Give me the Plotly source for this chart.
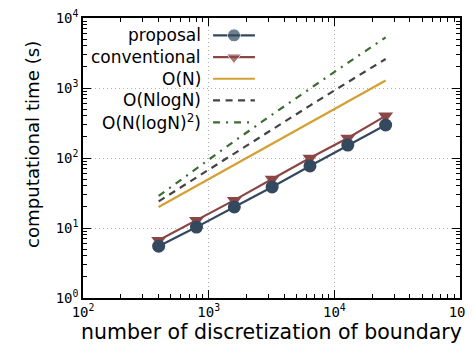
import plotly.graph_objects as go

N = [400, 800, 1600, 3200, 6400, 12800, 25600]
proposal = [5.5, 10.3, 20, 38.5, 77, 153, 296]
conventional = [6.7, 12.9, 25, 50, 100, 193, 400]
o_n = [20, 40, 80, 160, 320, 640, 1280]
o_nlogn = [24, 53, 118, 258, 561, 1211, 2598]
o_nlog2n = [28.7, 71.5, 174, 417, 983, 2290, 5275]

names = ["proposal", "conventional", "O(N)", "O(NlogN)", "O(N(logN)<sup>2</sup>)"]
colors = ["#34495e", "#8b4646", "#d4a034", "#444444", "#3d6b30"]
dashes = ["solid", "solid", "solid", "7px,5.5px", "7px,6px,2px,6px"]
symbols = ["circle", "triangle-down", None, None, None]

x_ticks = [100, 1000, 10000, 100000]
x_ticktext = ["10<sup>2</sup>", "10<sup>3</sup>", "10<sup>4</sup>", "10<sup>5</sup>"]
y_ticks = [1, 10, 100, 1000, 10000]
y_ticktext = ["10<sup>0</sup>", "10<sup>1</sup>", "10<sup>2</sup>", "10<sup>3</sup>", "10<sup>4</sup>"]

fig = go.Figure()
series = [proposal, conventional, o_n, o_nlogn, o_nlog2n]
order = [2, 3, 4, 1, 0]
for i in order:
    mode = "lines+markers" if symbols[i] else "lines"
    fig.add_trace(go.Scatter(
        x=N, y=series[i], mode=mode, name=names[i], showlegend=False,
        line=dict(color=colors[i], width=2.2, dash=dashes[i]),
        marker=dict(symbol=symbols[i] or "circle", size=13, color=colors[i]),
    ))

# custom legend (text left of symbol), on an overlay axis in [0,1]
leg_y = [0.938, 0.860, 0.783, 0.706, 0.6275]
for i in range(5):
    mode = "lines+markers" if symbols[i] else "lines"
    fig.add_trace(go.Scatter(
        x=[0.345, 0.4005, 0.456], y=[leg_y[i]] * 3, mode=mode, showlegend=False,
        xaxis="x2", yaxis="y2", hoverinfo="skip",
        line=dict(color=colors[i], width=2.2, dash=dashes[i]),
        marker=dict(symbol=symbols[i] or "circle", size=[0, 13, 0] if symbols[i] else 0,
                    color=colors[i]),
    ))
    fig.add_annotation(x=0.318, y=leg_y[i], xref="paper", yref="paper",
                       text=names[i], showarrow=False, xanchor="right", yanchor="middle",
                       font=dict(family="DejaVu Sans", size=17, color="black"))

# y-axis title as annotation for precise placement
fig.add_annotation(x=-0.135, y=0.55, xref="paper", yref="paper", textangle=-90,
                   text="computational time (s)", showarrow=False,
                   xanchor="center", yanchor="middle",
                   font=dict(family="DejaVu Sans", size=18.2, color="black"))

minor_x = [m * 10 ** k for k in range(2, 5) for m in range(2, 10)]
minor_y = [m * 10 ** k for k in range(0, 4) for m in range(2, 10)]

axis_common = dict(
    type="log", showline=True, linecolor="black", linewidth=1.5, mirror="allticks",
    ticks="inside", ticklen=8, tickwidth=1, tickcolor="black",
    showgrid=True, gridcolor="#b4b4b4", griddash="1px,3px", gridwidth=1,
    zeroline=False, automargin=False,
    tickfont=dict(family="DejaVu Sans Mono", size=14, color="black"),
    title_font=dict(family="DejaVu Sans", size=20.5, color="black"),
)

fig.update_layout(
    width=474, height=347,
    margin=dict(l=75, r=22, t=10, b=57),
    plot_bgcolor="white", paper_bgcolor="white",
    xaxis=dict(**axis_common, range=[2, 5], tickvals=x_ticks, ticktext=x_ticktext,
               title=dict(text="number of discretization of boundary", standoff=2),
               minor=dict(tickvals=minor_x, ticks="inside", ticklen=4, tickcolor="black",
                          showgrid=False)),
    yaxis=dict(**axis_common, range=[0, 4], tickvals=y_ticks, ticktext=y_ticktext,
               minor=dict(tickvals=minor_y, ticks="inside", ticklen=4, tickcolor="black",
                          showgrid=False)),
    xaxis2=dict(overlaying="x", range=[0, 1], visible=False, fixedrange=True),
    yaxis2=dict(overlaying="y", range=[0, 1], visible=False, fixedrange=True),
    showlegend=False,
)

fig.write_html("out.html")
